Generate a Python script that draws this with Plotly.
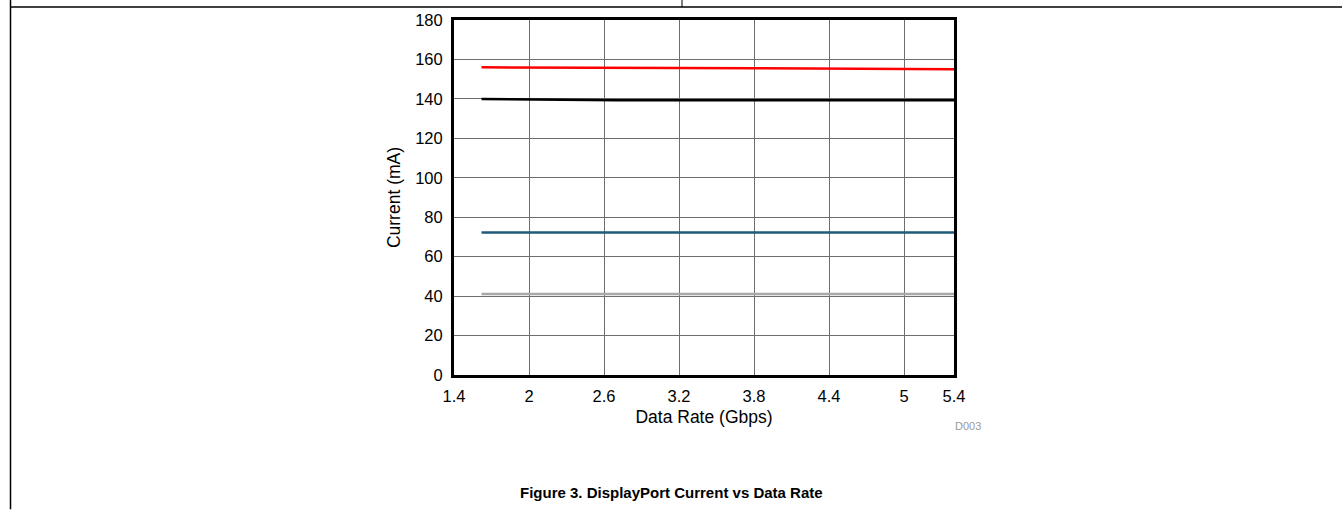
import plotly.graph_objects as go

# Data
data_rate = [1.62, 2.0, 2.7, 3.2, 3.8, 4.4, 5.0, 5.4]
red_current = [156.0, 156.0, 155.9, 155.7, 155.5, 155.3, 155.1, 155.0]
black_current = [140.0, 139.7, 139.3, 139.3, 139.3, 139.3, 139.3, 139.3]
blue_current = [72.2, 72.2, 72.2, 72.2, 72.2, 72.2, 72.2, 72.2]
gray_current = [41.1, 41.1, 41.1, 41.1, 41.1, 41.1, 41.1, 41.1]
x_ticks = [1.4, 2, 2.6, 3.2, 3.8, 4.4, 5, 5.4]
x_tick_text = ["1.4", "2", "2.6", "3.2", "3.8", "4.4", "5", "5.4"]
y_ticks = [0, 20, 40, 60, 80, 100, 120, 140, 160, 180]

series = [
    (red_current, "#ff0000"),
    (black_current, "#000000"),
    (blue_current, "#1d5b78"),
    (gray_current, "#a8a8a8"),
]

fig = go.Figure()
for vals, col in series:
    fig.add_trace(go.Scatter(x=data_rate, y=vals, mode="lines",
                             line=dict(color=col, width=2.5), showlegend=False,
                             hoverinfo="skip"))

W, H = 1342, 510
L, R, T, B = 454, 954, 20, 375.5

def px(x):
    return (x - L) / (R - L)

def py(y):
    return (B - y) / (B - T)

font = "Liberation Sans, Arial, sans-serif"

fig.update_layout(
    width=W, height=H,
    margin=dict(l=L, r=W - R, t=T, b=H - B, pad=0),
    paper_bgcolor="white", plot_bgcolor="white",
    font=dict(family=font, size=16, color="#000000"),
    xaxis=dict(range=[1.4, 5.4], tickvals=x_ticks, ticktext=x_tick_text,
               showgrid=True, gridcolor="#6e6e6e", gridwidth=1,
               showline=True, linecolor="#000000", linewidth=3, mirror=True,
               ticks="", zeroline=False, ticklabelstandoff=4,
               tickfont=dict(size=16.5),
               title=dict(text="Data Rate (Gbps)", standoff=7,
                          font=dict(size=17.5))),
    yaxis=dict(range=[0, 180], tickvals=y_ticks,
               showgrid=True, gridcolor="#6e6e6e", gridwidth=1,
               showline=True, linecolor="#000000", linewidth=3, mirror=True,
               ticks="", zeroline=False, ticklabelstandoff=5,
               tickfont=dict(size=16.5),
               title=dict(text="Current (mA)", standoff=11,
                          font=dict(size=17.5))),
    shapes=[
        dict(type="line", xref="paper", yref="paper",
             x0=px(10.5), x1=px(1342), y0=py(7), y1=py(7),
             line=dict(color="#000000", width=1.5)),
        dict(type="line", xref="paper", yref="paper",
             x0=px(10.5), x1=px(10.5), y0=py(0), y1=py(510),
             line=dict(color="#000000", width=1.5)),
        dict(type="line", xref="paper", yref="paper",
             x0=px(682), x1=px(682), y0=py(0), y1=py(7),
             line=dict(color="#000000", width=1)),
    ],
    annotations=[
        dict(text="<b>Figure 3. DisplayPort Current vs Data Rate</b>",
             xref="paper", yref="paper", x=px(671), y=py(493),
             xanchor="center", yanchor="middle", showarrow=False,
             font=dict(size=15, family=font, color="#000000")),
        dict(text="D003", xref="paper", yref="paper", x=px(968), y=py(427),
             xanchor="center", yanchor="middle", showarrow=False,
             font=dict(size=11, family=font, color="#9a9a9a")),
    ],
)

fig.write_html("out.html", config={"displayModeBar": False},
               post_script="document.body.style.margin='0';document.body.style.overflow='hidden';")
